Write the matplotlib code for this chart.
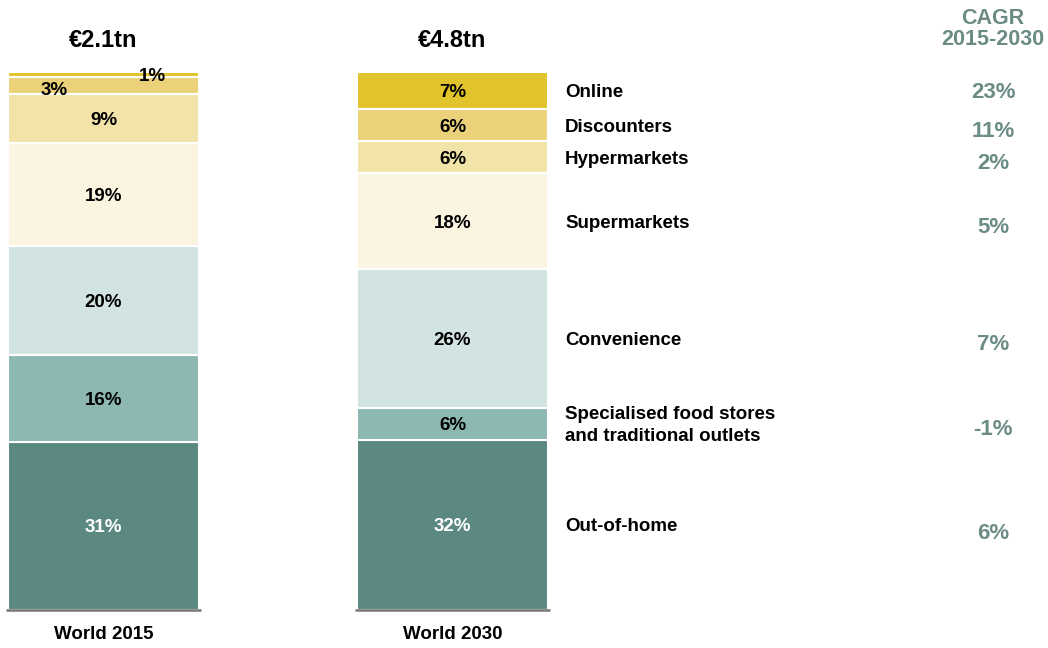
import numpy as np
import matplotlib.pyplot as plt

plt.rcParams['font.family'] = ['Liberation Sans', 'DejaVu Sans']

# segments, bottom to top
channels = ['Out-of-home', 'Specialised food stores\nand traditional outlets', 'Convenience',
            'Supermarkets', 'Hypermarkets', 'Discounters', 'Online']
share_2015 = [31, 16, 20, 19, 9, 3, 1]
share_2030 = [32, 6, 26, 18, 6, 6, 7]
cagr = ['6%', '-1%', '7%', '5%', '2%', '11%', '23%']
totals = ['€2.1tn', '€4.8tn']
bar_names = ['World 2015', 'World 2030']
colors = ['#5C8882', '#8CB8B1', '#D1E4E1', '#FBF4E1', '#F2E4A9', '#EBD27A', '#E1C42B']
cagr_color = '#6B8B85'

fig = plt.figure(figsize=(10.48, 6.48), dpi=100)
ax = fig.add_axes([0, 38 / 648, 1, 538 / 648])
ax.set_xlim(-103.5 / 349, (1048 - 103.5) / 349)
ax.set_ylim(0, 100)
ax.axis('off')

w = 191 / 349
for i, vals in enumerate([share_2015, share_2030]):
    vals = np.array(vals, dtype=float)
    h = vals / vals.sum() * 100
    bottoms = np.concatenate([[0], np.cumsum(h)[:-1]])
    ax.bar(i, h, bottom=bottoms, width=w, color=colors, edgecolor='white', linewidth=1.5)
    for j, (v, b, hh) in enumerate(zip(vals, bottoms, h)):
        c = 'white' if j == 0 else 'black'
        x, y = i, b + hh / 2 - 0.4
        if i == 0 and j == 5:
            x, y = i - 0.14, b + hh / 2 - 1.0
        if i == 0 and j == 6:
            x, y = i + 0.14, b + 0.1
        ax.text(x, y, f'{int(v)}%', ha='center', va='center', fontsize=13.5,
                fontweight='bold', color=c, clip_on=False)
    ax.plot([i - w / 2 - 0.005, i + w / 2 + 0.005], [0, 0], color='#777777', lw=1.8,
            solid_capstyle='butt', clip_on=False)
    ax.text(i, 105.8, totals[i], ha='center', va='center', fontsize=17, fontweight='bold')
    ax.text(i, -4.6, bar_names[i], ha='center', va='center', fontsize=13.5, fontweight='bold',
            clip_on=False)
    if i == 1:
        xl = (565 - 103.5) / 349
        xc = (993 - 103.5) / 349
        for j, (b, hh) in enumerate(zip(bottoms, h)):
            ax.text(xl, b + hh / 2 - 0.4, channels[j], ha='left', va='center', fontsize=13.5,
                    fontweight='bold', linespacing=1.4)
            off = -0.3 if j == 6 else -1.1
            if j == 0:
                off = -1.6
            ax.text(xc, b + hh / 2 + off, cagr[j], ha='center', va='center', fontsize=16,
                    fontweight='bold', color=cagr_color)
        ax.text(xc, 108.0, 'CAGR\n2015-2030', ha='center', va='center', fontsize=15.5,
                fontweight='bold', color=cagr_color, linespacing=0.95, clip_on=False)

fig.savefig('out.png', dpi=100)
